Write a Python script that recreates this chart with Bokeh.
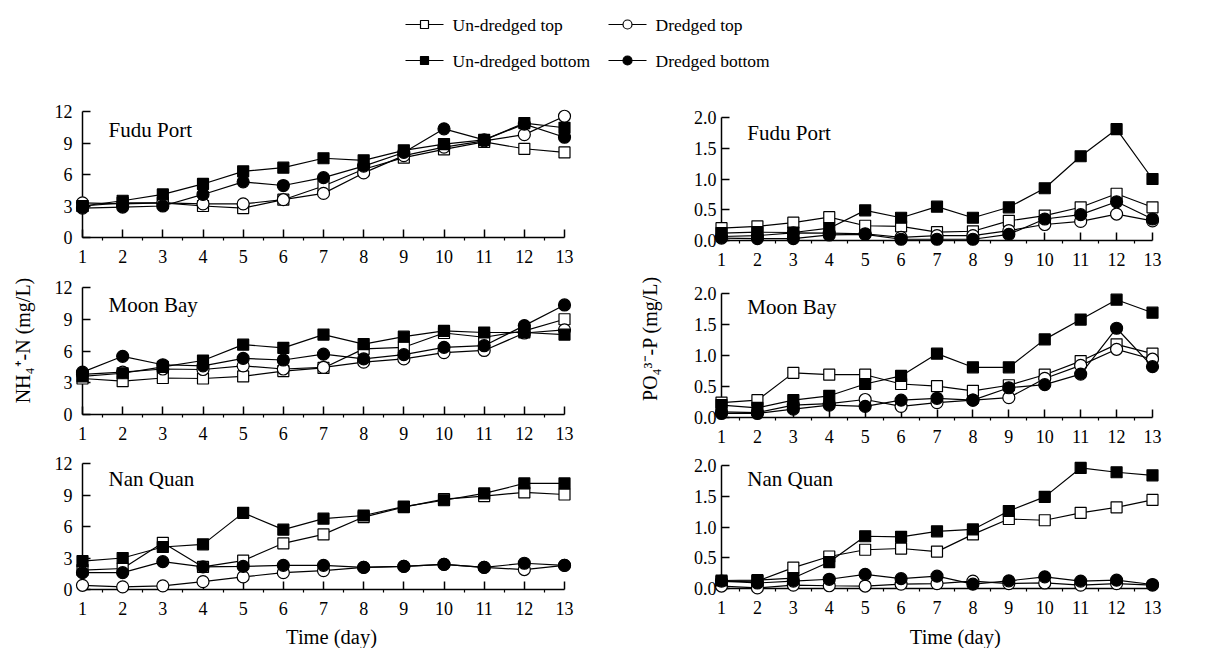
import math
from bokeh.plotting import figure
from bokeh.models import Range1d, FixedTicker, Label, PrintfTickFormatter
from bokeh.layouts import column, row
from bokeh.embed import file_html
from bokeh.resources import INLINE
from bokeh.core.properties import value

FONT = "Liberation Serif"

days = list(range(1, 14))
minor_days = [d + 0.5 for d in days[:-1]]

series_names = ["Un-dredged top", "Dredged top", "Un-dredged bottom", "Dredged bottom"]
sites = ["Fudu Port", "Moon Bay", "Nan Quan"]

nh4_yticks = [0, 3, 6, 9, 12]
po4_yticks = [0.0, 0.5, 1.0, 1.5, 2.0]

# NH4+-N (mg/L)
nh4_fudu_ut = [3.0, 3.3, 3.3, 3.0, 2.8, 3.6, 4.9, 6.5, 7.6, 8.4, 9.1, 8.45, 8.1]
nh4_fudu_dt = [3.3, 3.2, 3.3, 3.2, 3.2, 3.6, 4.2, 6.15, 7.8, 8.6, 9.2, 9.8, 11.55]
nh4_fudu_ub = [3.0, 3.5, 4.1, 5.1, 6.3, 6.65, 7.55, 7.35, 8.3, 8.9, 9.3, 10.9, 10.45]
nh4_fudu_db = [2.8, 2.9, 3.0, 4.1, 5.3, 4.95, 5.7, 6.8, 8.1, 10.35, 9.3, 10.8, 9.55]

nh4_moon_ut = [3.4, 3.15, 3.45, 3.4, 3.6, 4.1, 4.4, 6.2, 6.35, 7.7, 7.3, 7.9, 9.0]
nh4_moon_dt = [3.8, 4.0, 4.3, 4.25, 4.6, 4.3, 4.45, 4.95, 5.25, 5.85, 6.05, 7.7, 8.0]
nh4_moon_ub = [3.6, 3.9, 4.5, 5.1, 6.6, 6.3, 7.55, 6.65, 7.35, 7.9, 7.75, 7.75, 7.55]
nh4_moon_db = [4.0, 5.5, 4.7, 4.6, 5.3, 5.15, 5.7, 5.25, 5.65, 6.35, 6.5, 8.4, 10.35]

nh4_nan_ut = [1.85, 2.0, 4.45, 2.15, 2.75, 4.4, 5.25, 6.9, 7.85, 8.6, 8.9, 9.25, 9.05]
nh4_nan_dt = [0.4, 0.25, 0.35, 0.75, 1.2, 1.6, 1.8, 2.1, 2.2, 2.4, 2.1, 1.9, 2.3]
nh4_nan_ub = [2.7, 3.0, 4.05, 4.3, 7.3, 5.7, 6.75, 7.05, 7.9, 8.5, 9.15, 10.1, 10.1]
nh4_nan_db = [1.6, 1.6, 2.65, 2.15, 2.2, 2.3, 2.3, 2.1, 2.2, 2.4, 2.1, 2.5, 2.3]

# PO4 3- -P (mg/L)
po4_fudu_ut = [0.2, 0.23, 0.29, 0.38, 0.24, 0.23, 0.135, 0.15, 0.32, 0.405, 0.54, 0.76, 0.54]
po4_fudu_dt = [0.065, 0.08, 0.125, 0.12, 0.11, 0.05, 0.08, 0.08, 0.16, 0.26, 0.31, 0.43, 0.32]
po4_fudu_ub = [0.12, 0.135, 0.13, 0.2, 0.49, 0.37, 0.55, 0.37, 0.54, 0.85, 1.37, 1.81, 1.0]
po4_fudu_db = [0.04, 0.03, 0.03, 0.09, 0.1, 0.02, 0.02, 0.02, 0.1, 0.35, 0.42, 0.63, 0.35]

po4_moon_ut = [0.24, 0.28, 0.72, 0.69, 0.69, 0.54, 0.505, 0.43, 0.52, 0.69, 0.91, 1.18, 1.03]
po4_moon_dt = [0.09, 0.08, 0.2, 0.225, 0.29, 0.18, 0.24, 0.28, 0.32, 0.63, 0.84, 1.1, 0.94]
po4_moon_ub = [0.2, 0.155, 0.28, 0.35, 0.54, 0.67, 1.03, 0.81, 0.81, 1.26, 1.58, 1.9, 1.69]
po4_moon_db = [0.065, 0.065, 0.135, 0.2, 0.18, 0.28, 0.31, 0.28, 0.48, 0.53, 0.7, 1.44, 0.82]

po4_nan_ut = [0.11, 0.12, 0.34, 0.52, 0.63, 0.65, 0.6, 0.88, 1.13, 1.11, 1.23, 1.32, 1.44]
po4_nan_dt = [0.04, 0.01, 0.055, 0.045, 0.04, 0.07, 0.08, 0.12, 0.08, 0.09, 0.055, 0.08, 0.055]
po4_nan_ub = [0.13, 0.135, 0.17, 0.43, 0.85, 0.84, 0.93, 0.96, 1.26, 1.49, 1.96, 1.89, 1.84]
po4_nan_db = [0.12, 0.09, 0.12, 0.15, 0.23, 0.16, 0.2, 0.07, 0.125, 0.19, 0.12, 0.135, 0.065]

MARKERS = ["square", "circle", "square", "circle"]
FILLS = ["white", "white", "black", "black"]
SIZES = [11, 12, 11, 12]


def panel(width, height, bl, br, bt, bb, ymax, yticks, fmt, data, title,
          title_x, title_y, ystand, xstand):
    p = figure(width=width, height=height,
               min_border_left=bl, min_border_right=br,
               min_border_top=bt, min_border_bottom=bb,
               x_range=Range1d(1, 13), y_range=Range1d(0, ymax),
               output_backend="svg", toolbar_location=None)
    p.grid.visible = False
    p.outline_line_color = None
    p.xaxis.ticker = FixedTicker(ticks=days, minor_ticks=minor_days)
    p.yaxis.ticker = FixedTicker(ticks=yticks)
    p.yaxis.formatter = PrintfTickFormatter(format=fmt)
    for ax in (p.xaxis[0], p.yaxis[0]):
        ax.axis_line_width = 1.5
        ax.axis_line_color = "black"
        ax.major_tick_in = 8
        ax.major_tick_out = 0
        ax.major_tick_line_width = 1.5
        ax.major_tick_line_color = "black"
        ax.minor_tick_in = 0
        ax.minor_tick_out = 3
        ax.minor_tick_line_width = 1.2
        ax.minor_tick_line_color = "black"
        ax.major_label_text_font = FONT
        ax.major_label_text_font_size = "18px"
        ax.major_label_text_color = "black"
    p.yaxis.minor_tick_out = 0
    p.yaxis.major_label_standoff = ystand
    p.xaxis.major_label_standoff = xstand
    for vals, m, f, s in zip(data, MARKERS, FILLS, SIZES):
        p.line(days, vals, line_color="black", line_width=1.2, level="overlay")
        p.scatter(days, vals, marker=m, size=s, fill_color=f, line_color="black",
                  line_width=1.2, level="overlay")
    p.add_layout(Label(x=title_x, y=title_y, text=title, text_font=FONT,
                       text_font_size="21px", text_baseline="middle",
                       text_color="black"))
    return p


def axis_title(p, x, y, text, angle=0.0, size="20px"):
    p.text([x], [y], text=[text], angle=angle, text_font=value(FONT),
           text_font_size=size, text_font_style="normal", text_align="center",
           text_baseline="middle", text_color="black", level="overlay")


L_W, R_W = 608, 604

l1 = panel(L_W, 176, 82, 44, 12, 38, 12, nh4_yticks, "%d",
           [nh4_fudu_ut, nh4_fudu_dt, nh4_fudu_ub, nh4_fudu_db], sites[0], 1.65, 10.2, 10, 9)
l2 = panel(L_W, 176, 82, 44, 12, 37, 12, nh4_yticks, "%d",
           [nh4_moon_ut, nh4_moon_dt, nh4_moon_ub, nh4_moon_db], sites[1], 1.65, 10.3, 10, 9)
l3 = panel(L_W, 197, 82, 44, 12, 59, 12, nh4_yticks, "%d",
           [nh4_nan_ut, nh4_nan_dt, nh4_nan_ub, nh4_nan_db], sites[2], 1.65, 10.5, 10, 9)

r1 = panel(R_W, 178, 113, 60, 18, 37, 2.0, po4_yticks, "%.1f",
           [po4_fudu_ut, po4_fudu_dt, po4_fudu_ub, po4_fudu_db], sites[0], 1.72, 1.74, 5, 9)
r2 = panel(R_W, 176, 113, 60, 16, 36, 2.0, po4_yticks, "%.1f",
           [po4_moon_ut, po4_moon_dt, po4_moon_ub, po4_moon_db], sites[1], 1.72, 1.78, 5, 9)
r3 = panel(R_W, 195, 113, 60, 12, 60, 2.0, po4_yticks, "%.1f",
           [po4_nan_ut, po4_nan_dt, po4_nan_ub, po4_nan_db], sites[2], 1.72, 1.78, 5, 9)

# axis titles
axis_title(l2, -0.49, 6.99, "NH\u2084\u207A-N (mg/L)", angle=math.pi / 2)
axis_title(r2, -0.977, 1.274, "PO\u2084\u00B3\u207B-P (mg/L)", angle=math.pi / 2)
axis_title(l3, 7.2, -4.55, "Time (day)", size="20.5px")
axis_title(r3, 7.51, -0.79, "Time (day)", size="20.5px")

# legend strip
LEG_W, LEG_H = 1212, 99
leg = figure(width=LEG_W, height=LEG_H, x_range=Range1d(0, LEG_W), y_range=Range1d(LEG_H, 0),
             min_border_left=0, min_border_right=0, min_border_top=0, min_border_bottom=0,
             x_axis_type=None, y_axis_type=None, output_backend="svg", toolbar_location=None)
leg.grid.visible = False
leg.outline_line_color = None
leg_x0 = [405, 608, 405, 608]
leg_y = [24, 24, 60, 60]
for name, m, f, x0, y in zip(series_names, MARKERS, FILLS, leg_x0, leg_y):
    leg.line([x0, x0 + 38], [y, y], line_color="black", line_width=1.2)
    leg.scatter([x0 + 19], [y], marker=m, size=8 if m == "square" else 9,
                fill_color=f, line_color="black", line_width=1.2)
    leg.text([x0 + 47], [y], text=[name], text_font=value(FONT), text_font_size="17.5px",
             text_baseline="middle", text_color="black")

layout = column(leg, row(column(l1, l2, l3), column(r1, r2, r3)))

open("out.html", "w").write(file_html(layout, INLINE))
